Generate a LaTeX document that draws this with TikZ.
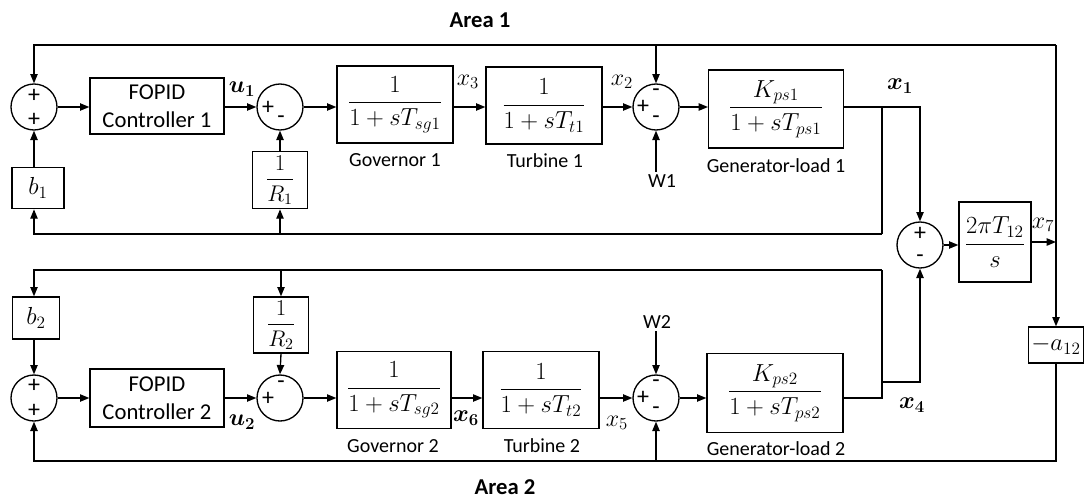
\RequirePackage{fix-cm}
\documentclass[tikz,border=0pt]{standalone}
\usepackage{amsmath,bm}
\usepackage{fontspec}
\setmainfont{Carlito}
\usetikzlibrary{arrows.meta}
\begin{document}
\begin{tikzpicture}[x=0.75pt,y=-0.75pt,
 blk/.style={draw,line width=1pt,inner sep=0pt,align=center,font=\fontsize{18.5}{21}\selectfont},
 txtblk/.style={blk,font=\fontsize{17}{21}\selectfont},
 sumc/.style={draw,circle,line width=1pt,minimum size=34.5pt,inner sep=0pt},
 sig/.style={font=\fontsize{18}{18}\selectfont,inner sep=0pt},
 lbl/.style={font=\fontsize{15}{18}\selectfont,inner sep=2pt},
 mlbl/.style={font=\fontsize{18}{20}\selectfont,inner sep=0pt},
 area/.style={font=\fontsize{17}{20}\selectfont\bfseries},
 wire/.style={line width=1pt},
 arr/.style={wire,-{Triangle[length=7pt,width=5.5pt]}},
]
\useasboundingbox (0,0) rectangle (1087,500);

% ---------- Area 1 ----------
\node[sumc] (s1) at (34,107) {};
\node[txtblk,minimum width=100.5pt,minimum height=42pt] (fopid1) at (157,106) {FOPID\\Controller 1};
\node[sumc] (s2) at (280,107) {};
\node[blk,minimum width=87pt,minimum height=57.75pt] (gov1) at (395,104.5) {$\dfrac{1}{1+sT_{sg1}}$};
\node[blk,minimum width=87pt,minimum height=57.75pt] (tur1) at (544,105.5) {$\dfrac{1}{1+sT_{t1}}$};
\node[sumc] (s3) at (656,107) {};
\node[blk,minimum width=101pt,minimum height=58.5pt] (gen1) at (776,109) {$\dfrac{K_{ps1}}{1+sT_{ps1}}$};
\node[blk,minimum width=39pt,minimum height=31pt] (b1) at (38,188) {$b_1$};
\node[blk,minimum width=41pt,minimum height=43pt,font=\fontsize{17}{18}\selectfont] (r1) at (280,180) {$\dfrac{1}{R_1}$};

% ---------- tie line ----------
\node[sumc] (s4) at (920,245) {};
\node[blk,minimum width=54pt,minimum height=60pt] (t12) at (995,242) {$\dfrac{2\pi T_{12}}{s}$};
\node[blk,minimum width=41pt,minimum height=27pt] (a12) at (1056,345) {$-a_{12}$};

% ---------- Area 2 ----------
\node[sumc] (s5) at (34,398) {};
\node[txtblk,minimum width=100.5pt,minimum height=43.5pt] (fopid2) at (157,398) {FOPID\\Controller 2};
\node[sumc] (s6) at (280,398) {};
\node[blk,minimum width=85.5pt,minimum height=57.75pt] (gov2) at (394,390) {$\dfrac{1}{1+sT_{sg2}}$};
\node[blk,minimum width=87pt,minimum height=57.75pt] (tur2) at (541,390) {$\dfrac{1}{1+sT_{t2}}$};
\node[sumc] (s7) at (656,398) {};
\node[blk,minimum width=102pt,minimum height=59pt] (gen2) at (775,393) {$\dfrac{K_{ps2}}{1+sT_{ps2}}$};
\node[blk,minimum width=35pt,minimum height=31.5pt] (b2) at (36,318) {$b_2$};
\node[blk,minimum width=41pt,minimum height=42pt,font=\fontsize{17}{18}\selectfont] (r2) at (281,325) {$\dfrac{1}{R_2}$};

% ---------- signs ----------
\path (s1) ++(0,-11) node[sig]{+} (s1) ++(0,13) node[sig]{+};
\path (s2) ++(-12,1) node[sig]{+} (s2) ++(1,13) node[sig]{-};
\path (s3) ++(-13,0) node[sig]{+} (s3) ++(0,-14) node[sig]{-} (s3) ++(0,13) node[sig]{-};
\path (s4) ++(0,-11) node[sig]{+} (s4) ++(0,14) node[sig]{-};
\path (s5) ++(0,-12) node[sig]{+} (s5) ++(0,13) node[sig]{+};
\path (s6) ++(-12,1) node[sig]{+} (s6) ++(1,-13) node[sig]{-};
\path (s7) ++(-13,0) node[sig]{+} (s7) ++(0,-14) node[sig]{-} (s7) ++(0,13) node[sig]{-};

% ---------- text labels ----------
\node[area] (ar1) at (480,20) {Area 1};
\node[area] (ar2) at (505,487) {Area 2};
\node[lbl] (lg1) at (395,160) {Governor 1};
\node[lbl] (lt1) at (545,161) {Turbine 1};
\node[lbl] (lgl1) at (776,166) {Generator-load 1};
\node[lbl] (w1) at (662,181) {W1};
\node[lbl] (lg2) at (393,446) {Governor 2};
\node[lbl] (lt2) at (542,446) {Turbine 2};
\node[lbl] (lgl2) at (776,449) {Generator-load 2};
\node[lbl] (w2) at (657,322) {W2};

\node[mlbl] (u1) at (242,89) {$\bm{u_1}$};
\node[mlbl] (x3) at (468,82) {$x_3$};
\node[mlbl] (x2) at (622,82) {$x_2$};
\node[mlbl] (x1) at (900,86) {$\bm{x_1}$};
\node[mlbl] (x7) at (1043,225) {$x_7$};
\node[mlbl] (u2) at (242,422) {$\bm{u_2}$};
\node[mlbl] (x6) at (466,418) {$\bm{x_6}$};
\node[mlbl] (x5) at (617,423) {$x_5$};
\node[mlbl] (x4) at (912,405) {$\bm{x_4}$};

% ---------- coordinates ----------
\coordinate (top) at (1056,45);
\coordinate (bot) at (34,461);
\coordinate (j1) at (882,107);
\coordinate (fb1) at (882,234);
\coordinate (j2) at (882,398);
\coordinate (tp2) at (882,270);
\coordinate (j2b) at (882,382);

% ---------- area 1 forward path ----------
\draw[arr] (s1.east) -- (fopid1.west |- s1.east);
\draw[arr] (fopid1.east |- s2) -- (s2.west);
\draw[arr] (s2.east) -- (gov1.west |- s2);
\draw[arr] (gov1.east |- s2) -- (tur1.west |- s2);
\draw[arr] (tur1.east |- s3) -- (s3.west);
\draw[arr] (s3.east) -- (gen1.west |- s3);
\draw[wire] (gen1.east |- s3) -- (j1);
\draw[arr] (j1) -| (s4.north);
\draw[arr] (s3 |- w1.north) -- (s3.south);

% area 1 feedback
\draw[wire] (j1) -- (fb1);
\draw[arr] (fb1) -| (s1 |- b1.south);
\draw[arr] (r1 |- fb1) -- (r1.south);
\draw[arr] (s1 |- b1.north) -- (s1.south);
\draw[arr] (r1.north) -- (s2.south);

% ---------- tie line ----------
\draw[arr] (s4.east) -- (t12.west |- s4);
\draw[arr] (t12.east) -- (a12.north |- t12.east);
\draw[wire] (a12.north |- t12.east) -- (a12.north |- top);
\draw[arr] (a12.north |- t12.east) -- (a12.north);
\draw[arr] (a12.north |- top) -| (s1.north);
\draw[arr] (s3 |- top) -- (s3.north);
\draw[arr] (a12.south) |- (bot) -- (s5.south);
\draw[arr] (s7 |- bot) -- (s7.south);

% ---------- area 2 forward path ----------
\draw[arr] (s5.east) -- (fopid2.west |- s5);
\draw[arr] (fopid2.east |- s6) -- (s6.west);
\draw[arr] (s6.east) -- (gov2.west |- s6);
\draw[arr] (gov2.east |- s6) -- (tur2.west |- s6);
\draw[arr] (tur2.east |- s7) -- (s7.west);
\draw[arr] (s7.east) -- (gen2.west |- s7);
\draw[wire] (gen2.east |- s7) -- (j2) -- (tp2);
\draw[arr] (j2b) -| (s4.south);
\draw[arr] (s7 |- w2.south) -- (s7.north);

% area 2 feedback
\draw[arr] (tp2) -| (s5 |- b2.north);
\draw[arr] (r2 |- tp2) -- (r2.north);
\draw[arr] (s5 |- b2.south) -- (s5.north);
\draw[arr] (r2.south) -- (s6.north);
\end{tikzpicture}
\end{document}
